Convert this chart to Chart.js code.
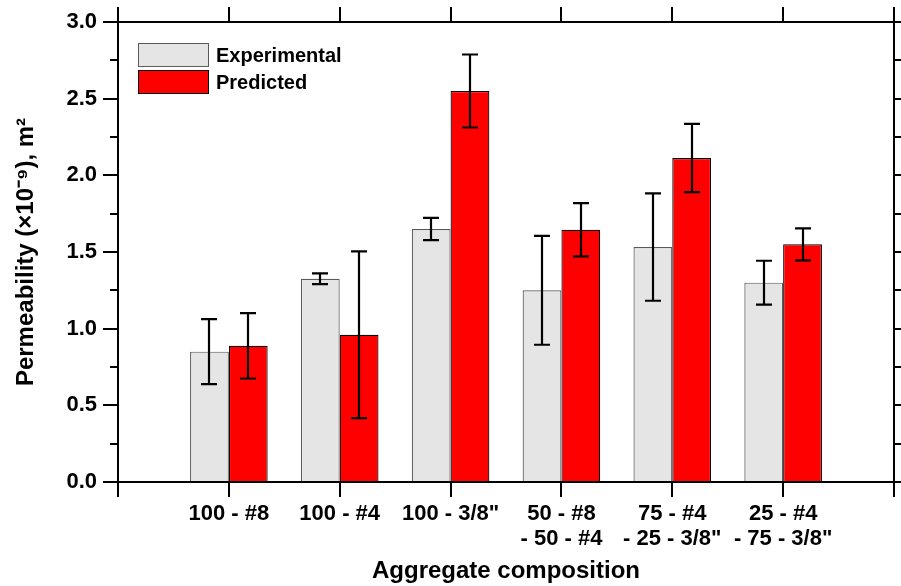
<!DOCTYPE html>
<html>
<head>
<meta charset="utf-8">
<script src="https://cdn.jsdelivr.net/npm/chart.js@4.4.1/dist/chart.umd.min.js"></script>
<style>
html,body{margin:0;padding:0;background:#fff;}
#wrap{width:901px;height:586px;position:relative;}
</style>
</head>
<body>
<div id="wrap"><canvas id="c"></canvas></div>
<script>
const categories = ['100 - #8', '100 - #4', '100 - 3/8"', ['50 - #8', '- 50 - #4'], ['75 - #4', '- 25 - 3/8"'], ['25 - #4', '- 75 - 3/8"']];
const experimental = [0.85, 1.325, 1.65, 1.25, 1.532, 1.30];
const experimentalErr = [0.212, 0.035, 0.072, 0.355, 0.35, 0.143];
const predicted = [0.888, 0.96, 2.55, 1.645, 2.113, 1.55];
const predictedErr = [0.213, 0.544, 0.238, 0.174, 0.223, 0.104];
const yTicks = [0.0, 0.5, 1.0, 1.5, 2.0, 2.5, 3.0];
const yMinorTicks = [0.25, 0.75, 1.25, 1.75, 2.25, 2.75];

const FONT = '"Liberation Sans", Arial, Helvetica, sans-serif';
const labels = [''].concat(categories, ['']);
const pad = a => [null].concat(a, [null]);
const errs = [pad(experimentalErr), pad(predictedErr)];

const errorBars = {
  id: 'errorBars',
  afterDatasetsDraw(chart) {
    const ctx = chart.ctx, y = chart.scales.y;
    ctx.save();
    ctx.strokeStyle = '#000';
    ctx.lineWidth = 2.2;
    chart.data.datasets.forEach((ds, di) => {
      const meta = chart.getDatasetMeta(di);
      meta.data.forEach((el, i) => {
        const v = ds.data[i], e = errs[di][i];
        if (v == null || e == null) return;
        const x = Math.round(el.x);
        const t = y.getPixelForValue(v + e), b = y.getPixelForValue(v - e);
        ctx.beginPath();
        ctx.moveTo(x, t); ctx.lineTo(x, b);
        ctx.moveTo(x - 8, t); ctx.lineTo(x + 8, t);
        ctx.moveTo(x - 8, b); ctx.lineTo(x + 8, b);
        ctx.stroke();
      });
    });
    ctx.restore();
  }
};

const frame = {
  id: 'frame',
  afterDraw(chart) {
    const ctx = chart.ctx, a = chart.chartArea, x = chart.scales.x, y = chart.scales.y;
    ctx.save();
    ctx.strokeStyle = '#000';
    ctx.lineWidth = 2;
    ctx.beginPath();
    ctx.moveTo(a.left - 1, a.top); ctx.lineTo(a.right + 1, a.top);
    ctx.moveTo(a.right, a.top); ctx.lineTo(a.right, a.bottom);
    for (let i = 0; i < labels.length; i++) {
      const px = Math.round(x.getPixelForTick(i));
      ctx.moveTo(px, a.top); ctx.lineTo(px, a.top - 15);
    }
    yTicks.forEach(v => {
      const py = Math.round(y.getPixelForValue(v));
      ctx.moveTo(a.right, py); ctx.lineTo(a.right + 15, py);
    });
    yMinorTicks.forEach(v => {
      const py = Math.round(y.getPixelForValue(v));
      ctx.moveTo(a.left, py); ctx.lineTo(a.left - 8, py);
      ctx.moveTo(a.right, py); ctx.lineTo(a.right + 8, py);
    });
    ctx.stroke();

    const items = chart.data.datasets;
    ctx.font = 'bold 20px ' + FONT;
    ctx.textBaseline = 'middle';
    ctx.textAlign = 'left';
    items.forEach((ds, i) => {
      const bx = 138.5, by = 43.5 + i * 27, bw = 70, bh = 23;
      ctx.fillStyle = ds.backgroundColor;
      ctx.fillRect(bx, by, bw, bh);
      ctx.lineWidth = 1;
      ctx.strokeStyle = ds.borderColor;
      ctx.strokeRect(bx, by, bw, bh);
      ctx.fillStyle = '#000';
      ctx.fillText(ds.label, 216, by + bh / 2 + 1);
    });
    ctx.restore();
  }
};

new Chart(document.getElementById('c'), {
  type: 'bar',
  data: {
    labels: labels,
    datasets: [
      { label: 'Experimental', data: pad(experimental), backgroundColor: '#e5e5e5', borderColor: '#5a5a5a', borderWidth: 1.2 },
      { label: 'Predicted', data: pad(predicted), backgroundColor: '#ff0000', borderColor: '#000000', borderWidth: 1.2 }
    ]
  },
  options: {
    responsive: true,
    maintainAspectRatio: false,
    animation: false,
    devicePixelRatio: 1,
    layout: { padding: { top: 22, right: 7, left: 0, bottom: 0 } },
    plugins: { legend: { display: false }, tooltip: { enabled: false } },
    datasets: { bar: { categoryPercentage: 0.7, barPercentage: 1.0 } },
    scales: {
      x: {
        type: 'category',
        offset: false,
        grid: { offset: false, display: true, drawOnChartArea: false, drawTicks: true, tickLength: 15, color: '#000', lineWidth: 2 },
        border: { display: true, color: '#000', width: 2 },
        ticks: { autoSkip: false, maxRotation: 0, minRotation: 0, padding: 5, color: '#000', font: { family: FONT, size: 22, weight: 'bold', lineHeight: 1.12 } },
        title: { display: true, text: 'Aggregate composition', color: '#000', font: { family: FONT, size: 24, weight: 'bold', lineHeight: 1.2 }, padding: { top: 0, bottom: 0 } },
        afterFit(s) { s.height = 104; }
      },
      y: {
        min: 0, max: 3,
        afterBuildTicks(s) { s.ticks = yTicks.map(v => ({ value: v })); },
        grid: { display: true, drawOnChartArea: false, drawTicks: true, tickLength: 15, color: '#000', lineWidth: 2 },
        border: { display: true, color: '#000', width: 2 },
        ticks: { padding: 6, color: '#000', font: { family: FONT, size: 22, weight: 'bold' }, callback: v => Number(v).toFixed(1) },
        title: { display: true, text: 'Permeability (×10⁻⁹), m²', color: '#000', font: { family: FONT, size: 24, weight: 'bold', lineHeight: 1.2 }, padding: { top: 12, bottom: 0 } },
        afterFit(s) { s.width = 118; }
      }
    }
  },
  plugins: [errorBars, frame]
});
</script>
</body>
</html>
